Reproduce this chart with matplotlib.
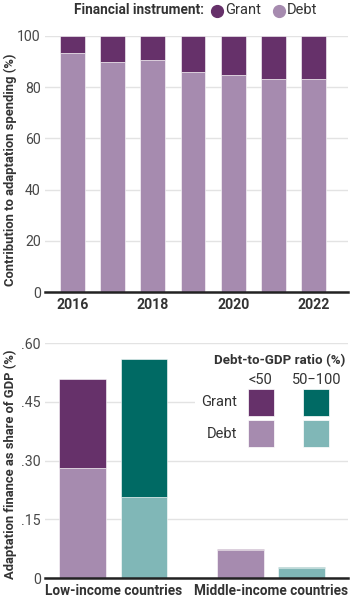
import matplotlib
matplotlib.use("Agg")
import matplotlib.pyplot as plt
from matplotlib.lines import Line2D
from matplotlib.patches import Rectangle
import numpy as np

plt.rcParams['font.family'] = ['Roboto', 'DejaVu Sans']

# data
years = [2016, 2017, 2018, 2019, 2020, 2021, 2022]
debt_share = [93.1, 89.9, 90.7, 85.8, 84.7, 83.0, 83.0]
grant_share = [100 - d for d in debt_share]

groups = ["Low-income countries", "Middle-income countries"]
debt_low_ratio = [0.281, 0.071]     # debt-to-GDP < 50
grant_low_ratio = [0.228, 0.003]
debt_mid_ratio = [0.208, 0.026]     # debt-to-GDP 50-100
grant_mid_ratio = [0.353, 0.001]

GRANT = '#66316a'
DEBT = '#a68baf'
TEAL_D = '#006a64'
TEAL_L = '#80b7b7'
GRID = '#e3e3e3'
TXT = '#333333'
TICK = '#484848'

W, H = 359, 601
fig = plt.figure(figsize=(W / 100, H / 100), dpi=100)


def fx(px):
    return px / W


def fy(py):
    return 1 - py / H


def style_axis(ax):
    for s in ax.spines.values():
        s.set_visible(False)
    ax.tick_params(axis='both', length=0)
    ax.tick_params(axis='y', pad=3, labelsize=10.2, labelcolor=TICK)
    ax.tick_params(axis='x', pad=4)
    ax.grid(axis='y', color=GRID, linewidth=1)
    ax.set_axisbelow(True)
    ax.axhline(0, color='#222222', linewidth=1.8, zorder=5, clip_on=False)


# ---- top chart ----
ax1 = fig.add_axes([fx(45), fy(292.3), fx(348) - fx(45), fy(35.7) - fy(292.3)])
x = np.arange(len(years))
ax1.bar(x, debt_share, width=0.62, color=DEBT, edgecolor='white', linewidth=0.4, zorder=3)
ax1.bar(x, grant_share, bottom=debt_share, width=0.62, color=GRANT, edgecolor='white',
        linewidth=0.4, zorder=3)
ax1.set_ylim(0, 100)
ax1.set_xlim(-0.685, 6.86)
ax1.set_yticks([0, 20, 40, 60, 80, 100])
ax1.set_xticks(x[::2])
ax1.set_xticklabels([str(y) for y in years[::2]], fontsize=10.2, fontweight='bold', color=TXT)
style_axis(ax1)
fig.text(fx(10), fy(170), 'Contribution to adaptation spending (%)', fontsize=9.4,
         fontweight='bold', color=TXT, rotation=90, ha='center', va='center')

# top legend
fig.text(fx(204), fy(10.5), 'Financial instrument:', fontsize=9.8, fontweight='bold',
         color=TXT, ha='right', va='center')
for cx, col, lab in [(217, GRANT, 'Grant'), (278.5, DEBT, 'Debt')]:
    fig.add_artist(Line2D([fx(cx)], [fy(10.5)], marker='o', markersize=8.5,
                          color=col, linestyle='none', transform=fig.transFigure))
    fig.text(fx(cx + 8), fy(10.5), lab, fontsize=10.5, color=TXT, ha='left', va='center')

# ---- bottom chart ----
ax2 = fig.add_axes([fx(45), fy(578), fx(348) - fx(45), fy(343.3) - fy(578)])
g = np.arange(len(groups))
bw = 0.296
off = 0.194
ax2.bar(g - off, debt_low_ratio, width=bw, color=DEBT, edgecolor='white', linewidth=0.4, zorder=3)
ax2.bar(g - off, grant_low_ratio, bottom=debt_low_ratio, width=bw, color=GRANT,
        edgecolor='white', linewidth=0.4, zorder=3)
ax2.bar(g + off, debt_mid_ratio, width=bw, color=TEAL_L, edgecolor='white', linewidth=0.4, zorder=3)
ax2.bar(g + off, grant_mid_ratio, bottom=debt_mid_ratio, width=bw, color=TEAL_D,
        edgecolor='white', linewidth=0.4, zorder=3)
ax2.set_ylim(0, 0.6)
ax2.set_xlim(-0.433, 1.489)
ax2.set_yticks([0, 0.15, 0.30, 0.45, 0.60])
ax2.set_yticklabels(['0', '.15', '.30', '.45', '.60'])
ax2.set_xticks(g)
ax2.set_xticklabels(groups, fontsize=9.8, fontweight='bold', color=TXT)
style_axis(ax2)
fig.text(fx(10), fy(464), 'Adaptation finance as share of GDP (%)', fontsize=9.4,
         fontweight='bold', color=TXT, rotation=90, ha='center', va='center')

# legend panel for bottom chart (white box hides gridlines)
fig.add_artist(Rectangle((fx(195), fy(455)), fx(350) - fx(195), fy(347) - fy(455),
                         transform=fig.transFigure, facecolor='white', edgecolor='none',
                         zorder=2))
fig.text(fx(345), fy(361), 'Debt-to-GDP ratio (%)', fontsize=9.6, fontweight='bold',
         color=TXT, ha='right', va='center', zorder=4)
fig.text(fx(260.5), fy(380), '<50', fontsize=10.5, color=TXT, ha='center', va='center', zorder=4)
fig.text(fx(316.5), fy(380), '50\u2212100', fontsize=10.5, color=TXT, ha='center', va='center',
         zorder=4)
fig.text(fx(237), fy(402.5), 'Grant', fontsize=10.5, color=TXT, ha='right', va='center', zorder=4)
fig.text(fx(237), fy(433.5), 'Debt', fontsize=10.5, color=TXT, ha='right', va='center', zorder=4)
for x0, row in [(247.7, (GRANT, DEBT)), (303.3, (TEAL_D, TEAL_L))]:
    for y0, col in zip((389, 420), row):
        fig.add_artist(Rectangle((fx(x0), fy(y0 + 27)), fx(26), 27 / H,
                                 transform=fig.transFigure, facecolor=col,
                                 edgecolor='white', linewidth=0.5, zorder=4))

fig.savefig('out.png', dpi=100)
